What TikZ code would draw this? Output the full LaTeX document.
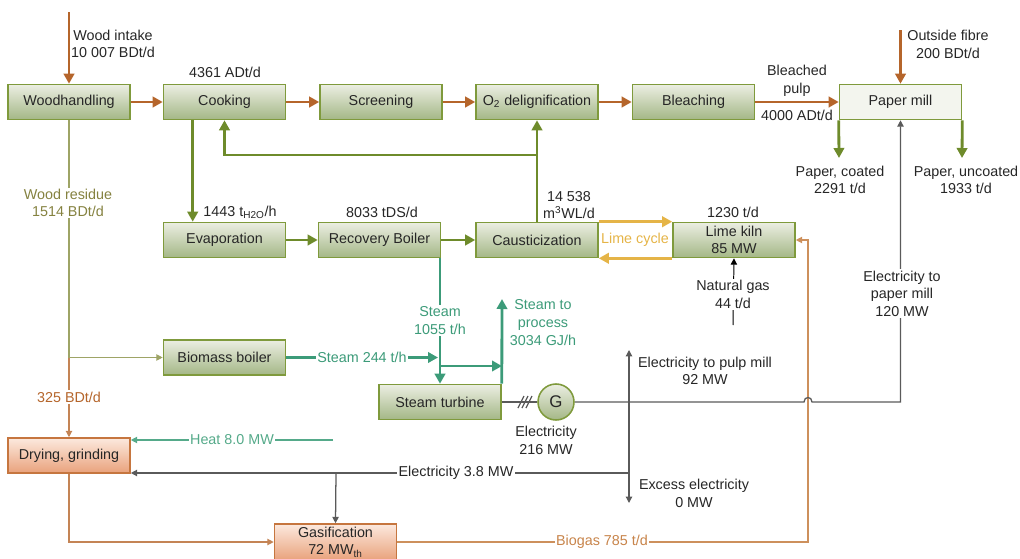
\documentclass[tikz,border=0pt]{standalone}
\usepackage{fontspec}
\setmainfont{Liberation Sans}
\usetikzlibrary{arrows.meta}
\definecolor{woodbrown}{HTML}{B5652B}
\definecolor{liquorgreen}{HTML}{6E8B2B}
\definecolor{boxedge}{HTML}{7F9A3C}
\definecolor{boxtop}{HTML}{EBEEE2}
\definecolor{boxbottom}{HTML}{A4B786}
\definecolor{millfill}{HTML}{F3F5EE}
\definecolor{steamteal}{HTML}{3C9B79}
\definecolor{heatteal}{HTML}{55AA8A}
\definecolor{limeyellow}{HTML}{E5B447}
\definecolor{elecgray}{HTML}{5A5A5A}
\definecolor{gasedge}{HTML}{C6763F}
\definecolor{gastop}{HTML}{FCE9DE}
\definecolor{gasbottom}{HTML}{E9A27C}
\definecolor{residueolive}{HTML}{858240}
\definecolor{residueline}{HTML}{9EA466}
\definecolor{biogasbrown}{HTML}{C8844A}
\definecolor{textdark}{HTML}{262626}
\begin{document}
\begin{tikzpicture}[x=0.025cm, y=-0.025cm,
	font=\fontsize{10.2}{12.5}\selectfont, text=textdark,
	procbox/.style={draw=boxedge, line width=1.1pt, top color=boxtop, bottom color=boxbottom,
		minimum width=3.05cm, minimum height=0.875cm, inner sep=0pt, align=center},
	millbox/.style={procbox, top color=millfill, bottom color=millfill},
	gasbox/.style={procbox, draw=gasedge, top color=gastop, bottom color=gasbottom},
	genbox/.style={circle, draw=boxedge, line width=1.1pt, top color=boxtop, bottom color=boxbottom,
		minimum size=0.9cm, inner sep=0pt, font=\fontsize{12}{14}\selectfont},
	bigtip/.style={-{Triangle[length=0.25cm, width=0.26cm]}},
	smalltip/.style={-{Triangle[length=0.16cm, width=0.16cm]}},
	woodflow/.style={draw=woodbrown, line width=2pt, bigtip},
	liquorflow/.style={draw=liquorgreen, line width=2pt, bigtip},
	steamflow/.style={draw=steamteal, line width=2pt, bigtip},
	limeflow/.style={draw=limeyellow, line width=2pt, bigtip},
	elecline/.style={draw=elecgray, line width=0.9pt},
	residueflow/.style={draw=residueline, line width=0.8pt},
	brownflow/.style={draw=woodbrown!80, line width=0.8pt},
	heatflow/.style={draw=heatteal, line width=0.8pt},
	biogasflow/.style={draw=biogasbrown!90, line width=0.8pt},
	lbl/.style={align=center, inner sep=1pt},
	cutlbl/.style={lbl, fill=white}]
\useasboundingbox (0,0) rectangle (1020,559);

% process boxes
\node[procbox] (wood) at (69,102) {Woodhandling};
\node[procbox] (cook) at (224.5,102) {Cooking};
\node[procbox] (screen) at (381,102) {Screening};
\node[procbox] (delig) at (537,102) {O\textsubscript{2} delignification};
\node[procbox] (bleach) at (693.5,102) {Bleaching};
\node[millbox] (paper) at (900.5,102) {Paper mill};
\node[procbox] (evap) at (224.5,240) {Evaporation};
\node[procbox] (recov) at (379.5,240) {Recovery Boiler};
\node[procbox] (caust) at (537,240) {Causticization};
\node[procbox] (kiln) at (734,240) {Lime kiln\\85 MW};
\node[procbox] (biomass) at (224.5,357.5) {Biomass boiler};
\node[procbox] (turbine) at (440,402) {Steam turbine};
\node[genbox] (gen) at (556,402) {G};
\node[gasbox] (dry) at (69,455.5) {Drying, grinding};
\node[gasbox, minimum height=0.9cm] (gasif) at (335.5,542) {Gasification\\72 MW\textsubscript{th}};

% free ends
\coordinate (intake) at (69,12);
\coordinate (fibrein) at (900.5,30);
\coordinate (coatedend) at (839,158);
\coordinate (uncoatedend) at (962,158);
\coordinate (whitesplit) at (537,155);
\coordinate (residuesplit) at (69,357.5);
\coordinate (bypass) at (440,366);
\coordinate (processout) at (502,299);
\coordinate (heatsrc) at (333,440);
\coordinate (elecjoint) at (629,402);
\coordinate (pulptip) at (629,350);
\coordinate (excesstip) at (629,503);
\coordinate (elecleft) at (629,473);
\coordinate (gasfeed) at (336,473);
\coordinate (biogascorner) at (808,542);
\coordinate (natgas) at (733,325);

% fibre line
\draw[woodflow] (intake) -- (wood);
\draw[woodflow] (wood) -- (cook);
\draw[woodflow] (cook) -- (screen);
\draw[woodflow] (screen) -- (delig);
\draw[woodflow] (delig) -- (bleach);
\draw[woodflow] (bleach) -- (paper);
\draw[woodflow] (fibrein) -- (paper);
\draw[liquorflow] (paper.south west) -- (coatedend);
\draw[liquorflow] (paper.south east) -- (uncoatedend);

% liquor cycle
\draw[liquorflow] ([xshift=0.75cm]cook.south west) -- ([xshift=0.75cm]evap.north west);
\draw[liquorflow] (evap) -- (recov);
\draw[liquorflow] (recov) -- (caust);
\draw[liquorflow] (caust) -- (delig);
\draw[liquorflow] (whitesplit) -| (cook.south);
\draw[limeflow] (caust.north east) -- (kiln.north west);
\draw[limeflow] (kiln.south west) -- (caust.south east);
\draw[smalltip, black, line width=0.7pt] (natgas) -- (kiln.south);

% steam
\draw[steamflow] (recov.south east -| turbine.north) -- (turbine.north);
\draw[steamflow] (biomass.east) -- ([xshift=-0.05cm]biomass.east -| turbine.north);
\draw[steamflow] (bypass) -- (bypass -| processout);
\draw[steamflow] (turbine.north east) -- (processout);
\draw[heatflow, smalltip] (heatsrc) -- (heatsrc -| dry.east);

% residue and biogas
\draw[residueflow] (wood.south) -- (residuesplit);
\draw[residueflow, smalltip] (residuesplit) -- (biomass.west);
\draw[brownflow, smalltip] (residuesplit) -- (dry.north);
\draw[brownflow, smalltip] (dry.south) |- (gasif.west);
\draw[biogasflow, smalltip] (gasif.east) -- (biogascorner) |- (kiln.east);

% electricity
\draw[elecline] (turbine) -- (gen);
\foreach \dx in {-4,0,4}
	\draw[elecline] (522+\dx,408) -- (528+\dx,396);
\draw[elecline, smalltip] (gen) -- (804,402) .. controls (804,396) and (812,396) .. (812,402)
	-- (paper.south |- gen) -- (paper.south);
\draw[elecline, smalltip] (elecjoint) -- (pulptip);
\draw[elecline, smalltip] (elecjoint) -- (excesstip);
\draw[elecline, smalltip] (elecleft) -- (elecleft -| dry.east);
\draw[elecline, smalltip] (gasfeed) -- (gasif.north);

% labels
\node[lbl] (intakelbl) at (113,44) {Wood intake\\10 007 BDt/d};
\node[lbl] (cooklbl) at (225,72) {4361 ADt/d};
\node[lbl] (bleachedlbl) at (797,81) {Bleached\\pulp};
\node[lbl] (pulplbl) at (797,115) {4000 ADt/d};
\node[lbl] (fibrelbl) at (948,44.5) {Outside fibre\\200 BDt/d};
\node[lbl] (coatedlbl) at (840,180) {Paper, coated\\2291 t/d};
\node[lbl] (uncoatedlbl) at (966,180) {Paper, uncoated\\1933 t/d};
\node[lbl] (waterlbl) at (240,212) {1443 t\textsubscript{H2O}/h};
\node[lbl] (dslbl) at (382,212) {8033 tDS/d};
\node[lbl] (wllbl) at (569,205) {14 538\\m\textsuperscript{3}WL/d};
\node[lbl] (kilnlbl) at (733,212) {1230 t/d};
\node[lbl, text=limeyellow] (limelbl) at (635,240) {Lime cycle};
\node[cutlbl] (natgaslbl) at (733,294.5) {Natural gas\\44 t/d};
\node[cutlbl, text=residueolive] (residuelbl) at (68,203) {Wood residue\\1514 BDt/d};
\node[cutlbl, text=woodbrown] (dryfeedlbl) at (69,397) {325 BDt/d};
\node[cutlbl, text=steamteal] (rbsteamlbl) at (440,320.5) {Steam\\1055 t/h};
\node[cutlbl, text=steamteal] (bbsteamlbl) at (362,357.5) {Steam 244 t/h};
\node[lbl, text=steamteal] (processlbl) at (543,322.5) {Steam to\\process\\3034 GJ/h};
\node[cutlbl, text=heatteal] (heatlbl) at (232,440) {Heat 8.0 MW};
\node[lbl] (genlbl) at (546,440.5) {Electricity\\216 MW};
\node[lbl] (pulpmilllbl) at (705,371) {Electricity to pulp mill\\92 MW};
\node[cutlbl] (papermilllbl) at (902,293.5) {Electricity to\\paper mill\\120 MW};
\node[cutlbl] (auxlbl) at (456,473) {Electricity 3.8 MW};
\node[lbl] (excesslbl) at (694,493.5) {Excess electricity\\0 MW};
\node[cutlbl, text=biogasbrown] (biogaslbl) at (602,542) {Biogas 785 t/d};
\end{tikzpicture}
\end{document}
